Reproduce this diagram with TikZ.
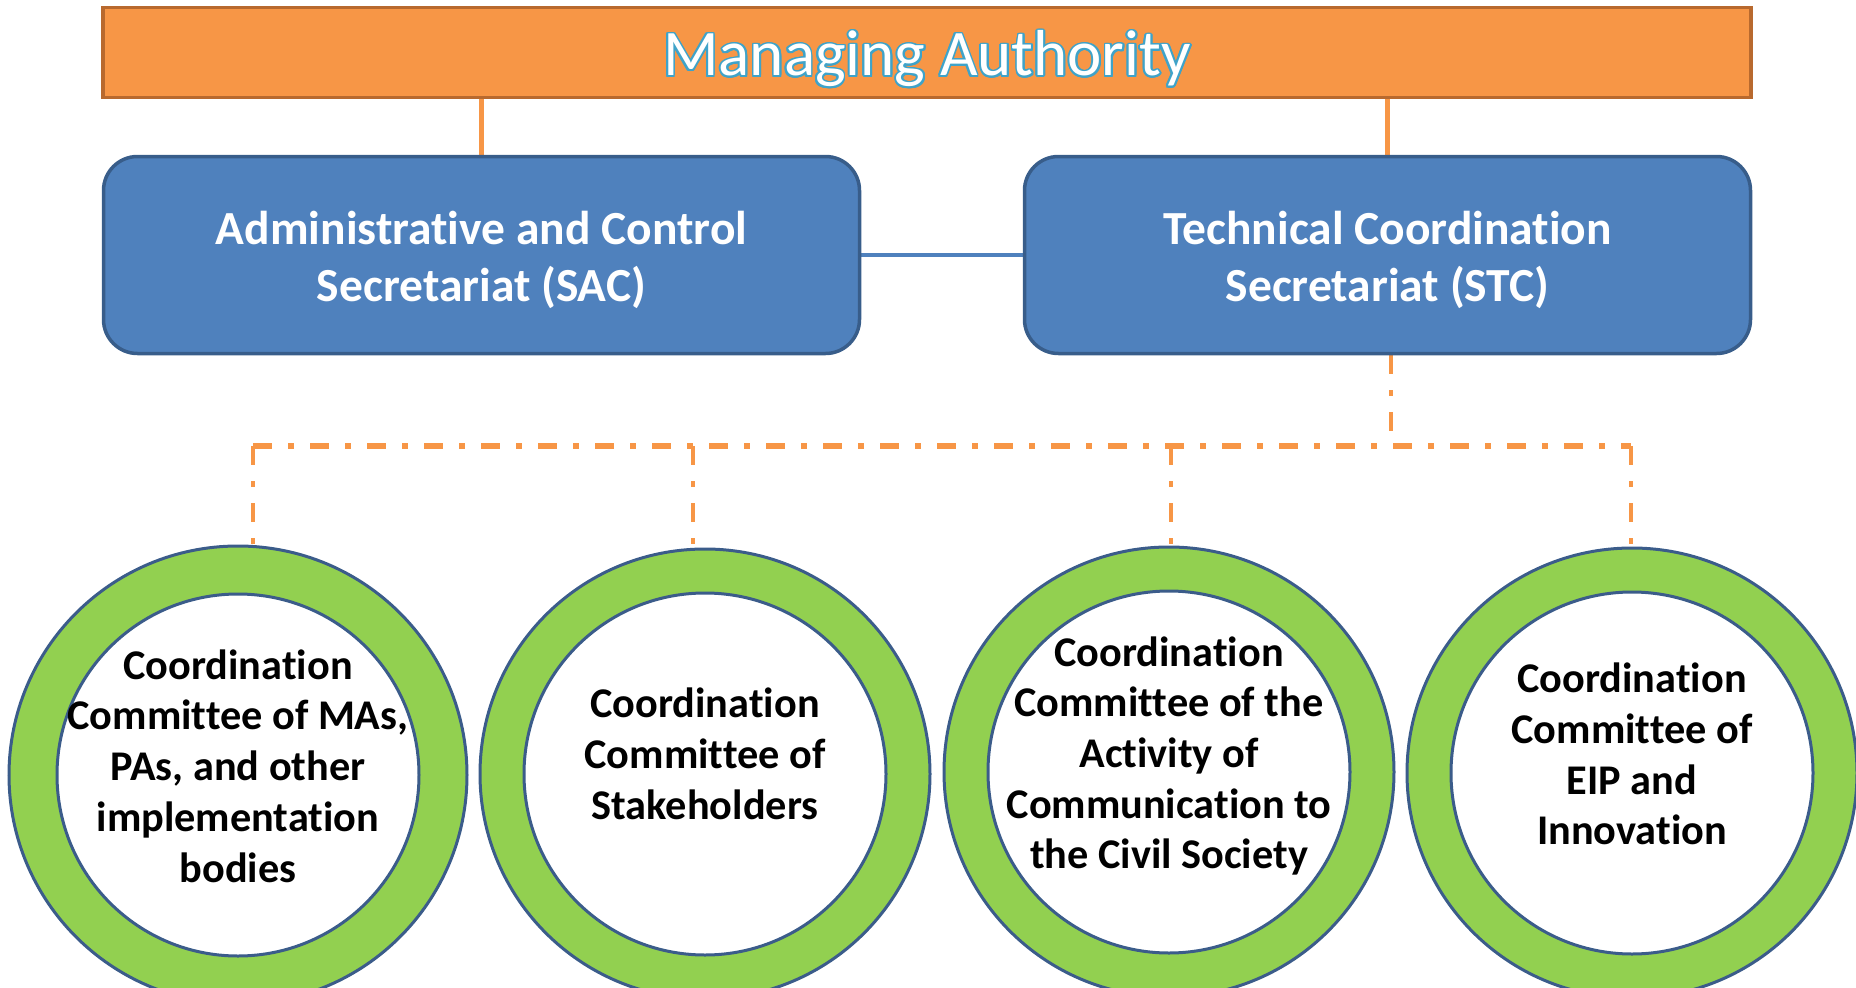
\documentclass[tikz,border=0pt]{standalone}
\usepackage{fontspec}
\setmainfont[Ligatures={NoCommon}]{Carlito}
\usetikzlibrary{backgrounds}
\definecolor{maorange}{HTML}{F79646}
\definecolor{maborder}{HTML}{B8692E}
\definecolor{boxblue}{HTML}{4F81BD}
\definecolor{boxborder}{HTML}{385D8A}
\definecolor{ringgreen}{HTML}{92D050}
\definecolor{ringborder}{HTML}{3B5C8A}
\definecolor{glow}{HTML}{3FA3C9}
\begin{document}
\begin{tikzpicture}[x=1pt,y=-1pt,
  mabar/.style={draw=maborder, line width=3.5pt, fill=maorange, minimum width=1648pt, minimum height=90pt, inner sep=0pt},
  matext/.style={font=\fontsize{65}{70}\selectfont, inner sep=0pt},
  secbox/.style={draw=boxborder, line width=3.5pt, fill=boxblue, rounded corners=34pt, minimum height=197pt, inner sep=0pt},
  sectext/.style={text=white, align=center, font=\fontsize{47.5}{57}\selectfont\bfseries, inner sep=0pt},
  ringout/.style={circle, draw=ringborder, line width=3pt, fill=ringgreen, minimum size=450pt, inner sep=0pt},
  ringin/.style={circle, draw=ringborder, line width=3pt, fill=white, minimum size=362pt, inner sep=0pt},
  ringtext/.style={align=center, font=\fontsize{42.3}{50.7}\selectfont\bfseries, inner sep=0pt},
  solidlink/.style={draw=maorange, line width=5.5pt},
  bluelink/.style={draw=boxblue, line width=4pt},
  dashlink/.style={draw=maorange, line width=4.5pt, dash pattern=on 19pt off 16pt on 6pt off 16pt},
  buslink/.style={dashlink, line width=6pt}
]
\useasboundingbox (0,0) rectangle (1856,988);

% Managing Authority bar
\node[mabar] (ma) at (927,52.5) {};
\foreach \a in {0,20,...,340}{
  \node[matext, text=glow, xshift={1.8*cos(\a)}, yshift={1.8*sin(\a)}] (maglow\a) at (927,59) {Managing Authority};
}
\node[matext, text=white] (matxt) at (927,59) {Managing Authority};

% Secretariats
\node[secbox, minimum width=756pt] (sac) at (481.5,255) {};
\node[sectext] (sactxt) at (481.5,260) {Administrative and Control\\Secretariat (SAC)};
\node[secbox, minimum width=726pt] (stc) at (1387.5,255) {};
\node[sectext] (stctxt) at (1387.5,260) {Technical Coordination\\Secretariat (STC)};

% Committees
\node[ringout, minimum size=458pt] (c1) at (238,775) {};
\node[ringin] (c1in) at (238,775) {};
\node[ringtext] (t1) at (238,766) {Coordination\\Committee of MAs,\\PAs, and other\\implementation\\bodies};

\node[ringout] (c2) at (705,774) {};
\node[ringin] (c2in) at (705,774) {};
\node[ringtext] (t2) at (705,754) {Coordination\\Committee of\\Stakeholders};

\node[ringout] (c3) at (1169,772) {};
\node[ringin] (c3in) at (1169,772) {};
\node[ringtext] (t3) at (1169,756) {Coordination\\Committee of the\\Activity of\\Communication to\\the Civil Society};

\node[ringout] (c4) at (1632,773) {};
\node[ringin] (c4in) at (1632,773) {};
\node[ringtext] (t4) at (1632,754) {Coordination\\Committee of\\EIP and\\Innovation};

% bus coordinates
\coordinate (bus0) at (1391,446);
\coordinate (d1) at (253,446);
\coordinate (d2) at (693,446);
\coordinate (d3) at (1171,446);
\coordinate (d4) at (1631,446);

\begin{pgfonlayer}{background}
  \draw[solidlink] (sac.north |- ma.south) -- (sac.north);
  \draw[solidlink] (stc.north |- ma.south) -- (stc.north);
  \draw[bluelink] (sac.east) -- (stc.east -| stc.west);
  \draw[dashlink] (stc.south -| bus0) -- (bus0);
  \draw[buslink] (d1) -- (d4);
  \draw[dashlink] (d1) -- (d1 |- c1.north);
  \draw[dashlink] (d2) -- (d2 |- c2.north);
  \draw[dashlink] (d3) -- (d3 |- c3.north);
  \draw[dashlink] (d4) -- (d4 |- c4.north);
\end{pgfonlayer}
\end{tikzpicture}
\end{document}
